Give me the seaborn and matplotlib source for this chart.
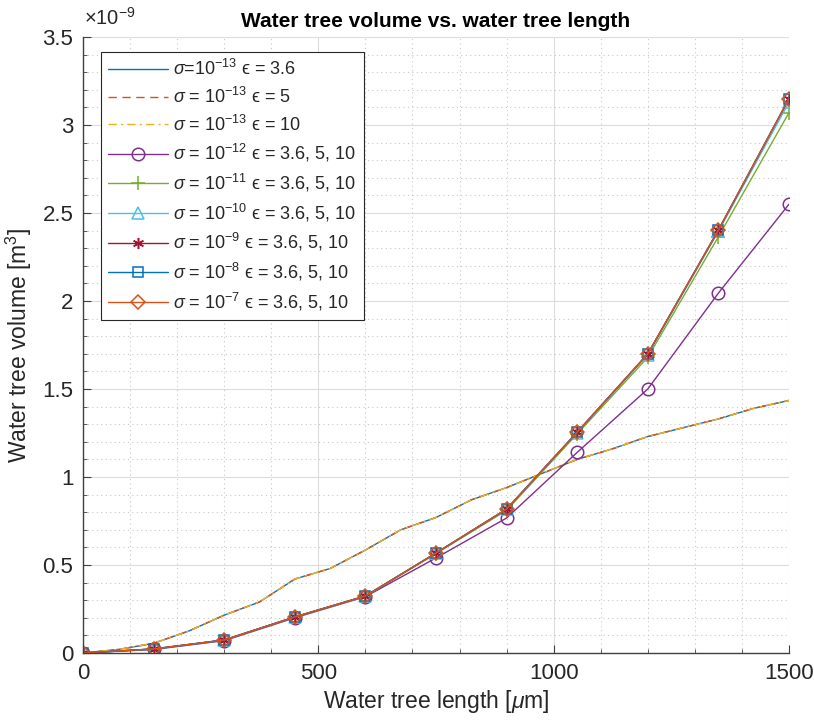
import numpy as np
import pandas as pd
import matplotlib
matplotlib.use("Agg")
import matplotlib.pyplot as plt
import seaborn as sns
from matplotlib.ticker import MultipleLocator, FormatStrFormatter

# ---- data (volumes in units of 1e-9 m^3) ----
x_dense = [0, 75, 150, 225, 300, 375, 450, 525, 600, 675, 750, 825, 900, 975,
           1050, 1125, 1200, 1275, 1350, 1425, 1500]
v_s13 = [0.0, 0.02, 0.055, 0.125, 0.215, 0.29, 0.42, 0.48, 0.585, 0.70, 0.77,
         0.87, 0.94, 1.02, 1.10, 1.16, 1.23, 1.28, 1.33, 1.39, 1.435]

x_pts = [0, 150, 300, 450, 600, 750, 900, 1050, 1200, 1350, 1500]
v_s12 = [0.0, 0.02, 0.07, 0.20, 0.32, 0.54, 0.767, 1.14, 1.50, 2.045, 2.55]
v_s11 = [0.0, 0.022, 0.073, 0.203, 0.322, 0.565, 0.81, 1.245, 1.68, 2.365, 3.07]
v_s10 = [0.0, 0.023, 0.074, 0.205, 0.324, 0.567, 0.816, 1.252, 1.695, 2.395, 3.13]
v_s9 = [0.0, 0.023, 0.074, 0.205, 0.324, 0.568, 0.818, 1.255, 1.70, 2.403, 3.15]
v_s8 = [0.0, 0.023, 0.074, 0.205, 0.324, 0.568, 0.818, 1.255, 1.70, 2.403, 3.15]
v_s7 = [0.0, 0.023, 0.074, 0.205, 0.324, 0.568, 0.818, 1.255, 1.70, 2.403, 3.15]

labels = [
    r'$\sigma$=10$^{-13}$ ϵ = 3.6',
    r'$\sigma$ = 10$^{-13}$ ϵ = 5',
    r'$\sigma$ = 10$^{-13}$ ϵ = 10',
    r'$\sigma$ = 10$^{-12}$ ϵ = 3.6, 5, 10',
    r'$\sigma$ = 10$^{-11}$ ϵ = 3.6, 5, 10',
    r'$\sigma$ = 10$^{-10}$ ϵ = 3.6, 5, 10',
    r'$\sigma$ = 10$^{-9}$ ϵ = 3.6, 5, 10',
    r'$\sigma$ = 10$^{-8}$ ϵ = 3.6, 5, 10',
    r'$\sigma$ = 10$^{-7}$ ϵ = 3.6, 5, 10',
]

colors = ['#0072BD', '#D95319', '#EDB120', '#7E2F8E', '#77AC30',
          '#4DBEEE', '#A2142F', '#0072BD', '#D95319']

sns.set_theme(style="white")
plt.rcParams['font.family'] = ['Liberation Sans', 'DejaVu Sans']
plt.rcParams['mathtext.fontset'] = 'custom'
plt.rcParams['mathtext.rm'] = 'Liberation Sans'
plt.rcParams['mathtext.it'] = 'Liberation Sans:italic'
plt.rcParams['mathtext.sf'] = 'Liberation Sans'

fig = plt.figure(figsize=(8.14, 7.24), dpi=100)
ax = fig.add_axes([83/814, 71/724, 706/814, 616/724])

lw = 1.0
# sigma = 1e-13 lines
sns.lineplot(x=x_dense, y=v_s13, ax=ax, color=colors[0], lw=lw, linestyle='-', label=labels[0])
sns.lineplot(x=x_dense, y=v_s13, ax=ax, color=colors[1], lw=lw, linestyle=(0, (6, 4)), label=labels[1])
sns.lineplot(x=x_dense, y=v_s13, ax=ax, color=colors[2], lw=lw, linestyle=(0, (6, 3, 1.5, 3)), label=labels[2])

series = [(v_s12, 'o', 9), (v_s11, '+', 10), (v_s10, '^', 9), (v_s9, (6, 2, 0), 8),
          (v_s8, 's', 7), (v_s7, 'D', 7)]
for i, (vals, mk, ms) in enumerate(series):
    c = colors[3 + i]
    sns.lineplot(x=x_pts, y=vals, ax=ax, color=c, lw=lw, marker=mk, markersize=ms,
                 markerfacecolor='none', markeredgecolor=c, markeredgewidth=1.1,
                 label=labels[3 + i])

ax.set_xlim(0, 1500)
ax.set_ylim(0, 3.5)
ax.xaxis.set_major_locator(MultipleLocator(500))
ax.xaxis.set_minor_locator(MultipleLocator(100))
ax.yaxis.set_major_locator(MultipleLocator(0.5))
ax.yaxis.set_minor_locator(MultipleLocator(0.1))
ax.yaxis.set_major_formatter(FormatStrFormatter('%g'))

ax.grid(which='major', color='#dcdcdc', lw=0.8, linestyle='-')
ax.grid(which='minor', color='#c8c8c8', lw=0.8, linestyle=(0, (1, 3)))
ax.set_axisbelow(True)

for s in ['top', 'right']:
    ax.spines[s].set_visible(False)
for s in ['left', 'bottom']:
    ax.spines[s].set_color('#404040')
    ax.spines[s].set_linewidth(1.0)

ax.tick_params(which='major', direction='in', length=6, width=0.8, colors='#404040',
               labelsize=16, labelcolor='#262626', pad=7)
ax.tick_params(which='minor', direction='in', length=3, width=0.6, colors='#404040')
ax.tick_params(left=True, bottom=True, which='both')

ax.set_xlabel(r'Water tree length [$\mu$m]', fontsize=16.5, color='#262626', labelpad=3)
ax.set_ylabel(r'Water tree volume [m$^3$]', fontsize=16.5, color='#262626', labelpad=6)
ax.set_title('Water tree volume vs. water tree length', fontsize=15, fontweight='bold',
             color='black', pad=7)
fig.text(84/814, 1 - 18/724, r'$\times$10$^{-9}$', fontsize=14.5, color='#262626',
         ha='left', va='center')

leg = ax.legend(loc='upper left', bbox_to_anchor=(18/706, 1 - 15/616), fontsize=13,
                frameon=True, fancybox=False, handlelength=3.3, borderaxespad=0,
                labelspacing=0.42, borderpad=0.4, handletextpad=0.3)
leg.get_frame().set_edgecolor('#262626')
leg.get_frame().set_linewidth(0.8)
leg.get_frame().set_facecolor('white')
leg.get_frame().set_alpha(1)

fig.savefig('out.png', dpi=100)
